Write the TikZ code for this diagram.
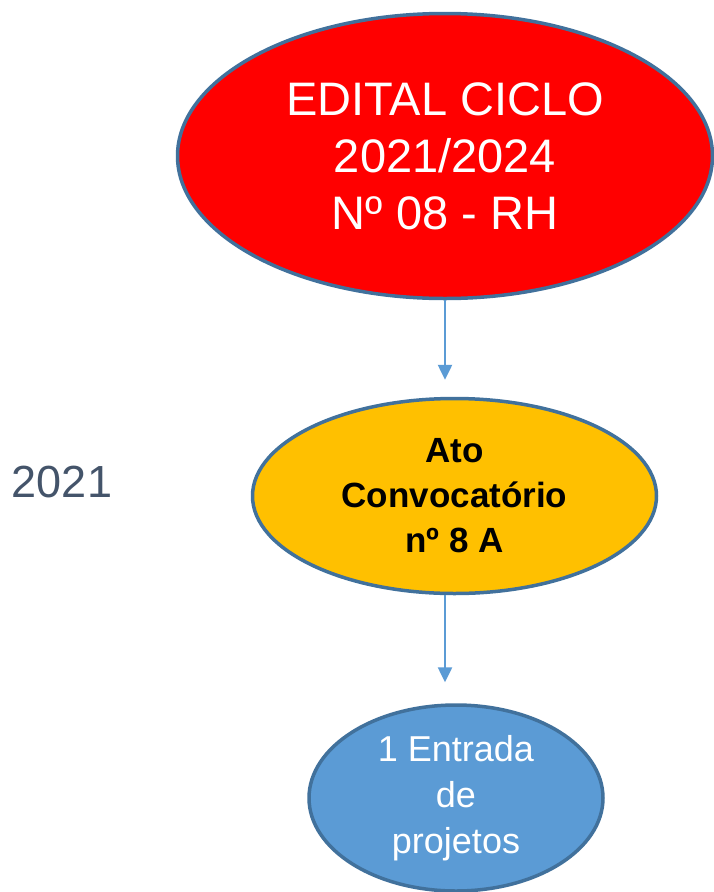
\documentclass[tikz,border=0pt]{standalone}
\usepackage{fontspec}
\setmainfont{Liberation Sans}
\usetikzlibrary{shapes.geometric,arrows.meta}
\definecolor{edgeblue}{HTML}{41719C}
\definecolor{arrowblue}{HTML}{5B9BD5}
\definecolor{fillorange}{HTML}{FFC000}
\definecolor{fillblue}{HTML}{5B9BD5}
\definecolor{yeargray}{HTML}{44546A}
\tikzset{
  oval/.style={ellipse, draw=edgeblue, line width=3.5pt, inner sep=0pt, align=center},
  arr/.style={draw=arrowblue, line width=2.5pt, -{Triangle[width=14pt,length=15pt]}}
}
\begin{document}
\begin{tikzpicture}[x=1pt,y=-1pt]
\fill[white] (0,0) rectangle (714,892);
\useasboundingbox (0,0) rectangle (714,892);
\node[oval, fill=red, text=white, minimum width=535, minimum height=285,
  font=\fontsize{47}{57}\selectfont] (red) at (445,156) {EDITAL CICLO\\2021/2024\\Nº 08 - RH};
\node[oval, fill=fillorange, text=black, minimum width=404, minimum height=195,
  font=\fontsize{35}{45}\selectfont\bfseries] (orange) at (454.5,496) {Ato\\Convocatório\\nº 8 A};
\node[oval, fill=fillblue, text=white, minimum width=294, minimum height=186,
  font=\fontsize{36}{46}\selectfont] (blue) at (456,798) {1 Entrada\\de\\projetos};
\node[text=yeargray, font=\fontsize{45}{54}\selectfont, anchor=center] (year) at (62,482) {2021};
\draw[arr, shorten >=17pt] (red.south) -- (red.south |- orange.north);
\draw[arr, shorten >=21pt] (orange.south -| red.south) -- (blue.north -| red.south);
\end{tikzpicture}
\end{document}
